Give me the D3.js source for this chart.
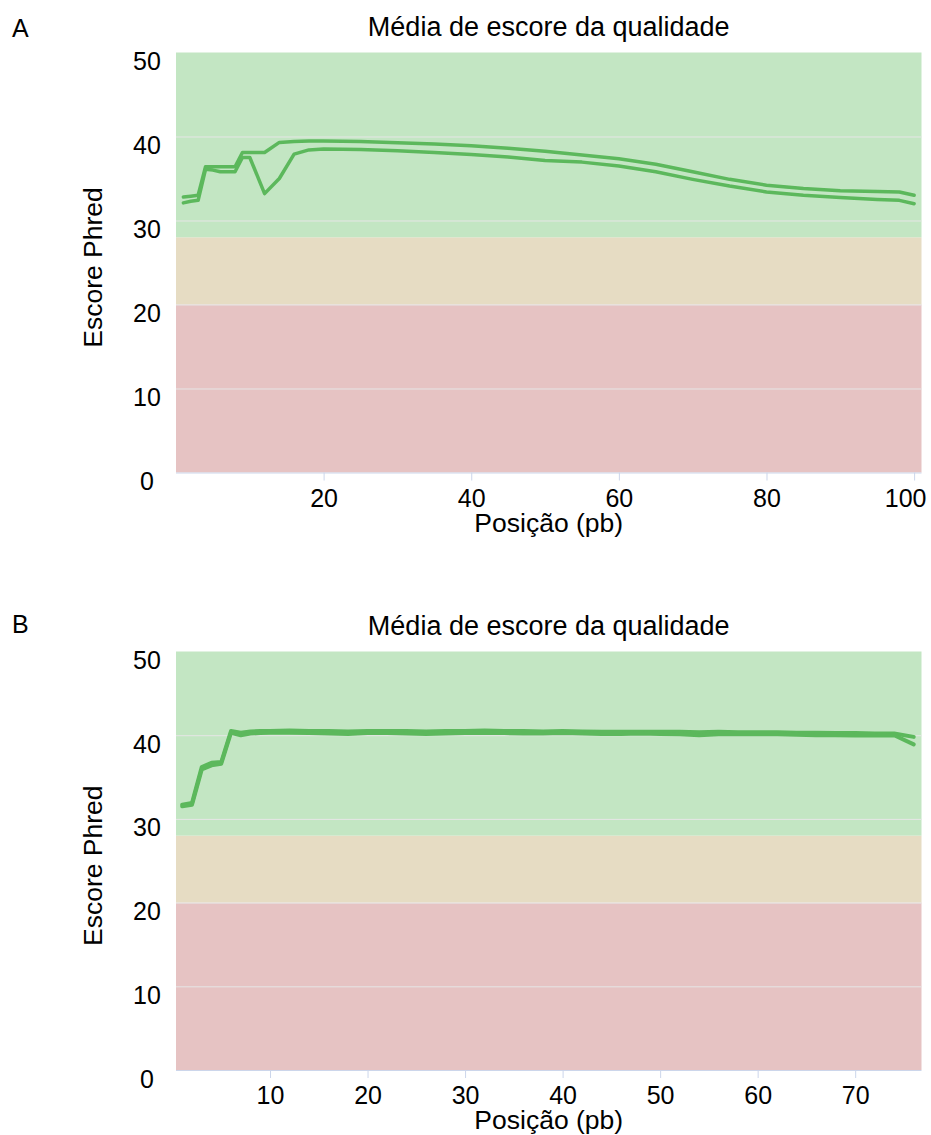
<!DOCTYPE html>
<html>
<head>
<meta charset="utf-8">
<script src="https://cdn.jsdelivr.net/npm/d3@7"></script>
<style>
  html, body { margin: 0; padding: 0; background: #fff; }
  svg { display: block; font-family: "Liberation Sans", Arial, sans-serif; }
</style>
</head>
<body>
<svg id="chart" width="931" height="1135"></svg>
<script>
// Panel A: mean Phred quality per base position (101 bp reads)
const positionsA = [1, 2, 3, 4, 5, 6, 7, 8, 9, 10, 12, 14, 16, 18, 20, 25, 30, 35, 40, 45, 50, 55, 60, 65, 70, 75, 80, 85, 90, 95, 98, 100];
const readA1 = [32.8, 32.9, 33.0, 36.4, 36.4, 36.4, 36.4, 36.4, 38.1, 38.1, 38.1, 39.3, 39.4, 39.45, 39.45, 39.4, 39.25, 39.1, 38.9, 38.6, 38.25, 37.8, 37.35, 36.7, 35.8, 34.9, 34.2, 33.8, 33.55, 33.45, 33.4, 33.0];
const readA2 = [32.1, 32.3, 32.4, 36.1, 36.0, 35.8, 35.8, 35.8, 37.5, 37.5, 33.2, 35.0, 37.9, 38.4, 38.5, 38.45, 38.3, 38.1, 37.85, 37.55, 37.15, 36.95, 36.5, 35.8, 34.9, 34.1, 33.4, 33.0, 32.75, 32.5, 32.4, 32.0];
const ticksXA = [20, 40, 60, 80, 100];

// Panel B: mean Phred quality per base position (76 bp reads)
const positionsB = [1, 2, 3, 4, 5, 6, 7, 8, 9, 10, 12, 14, 16, 18, 20, 22, 24, 26, 28, 30, 32, 34, 36, 38, 40, 42, 44, 46, 48, 50, 52, 54, 56, 58, 60, 62, 64, 66, 68, 70, 72, 74, 76];
const readB1 = [31.7, 31.9, 36.2, 36.7, 36.8, 40.5, 40.3, 40.45, 40.5, 40.5, 40.55, 40.5, 40.5, 40.45, 40.5, 40.5, 40.5, 40.45, 40.5, 40.5, 40.55, 40.5, 40.5, 40.45, 40.5, 40.45, 40.4, 40.4, 40.4, 40.4, 40.4, 40.35, 40.4, 40.35, 40.35, 40.35, 40.3, 40.3, 40.25, 40.25, 40.2, 40.2, 39.8];
const readB2 = [31.5, 31.7, 35.9, 36.4, 36.6, 40.3, 40.0, 40.2, 40.25, 40.3, 40.3, 40.25, 40.2, 40.15, 40.25, 40.25, 40.2, 40.15, 40.2, 40.25, 40.3, 40.25, 40.2, 40.2, 40.25, 40.2, 40.15, 40.15, 40.2, 40.15, 40.1, 40.0, 40.1, 40.1, 40.1, 40.1, 40.05, 40.0, 40.0, 39.95, 39.95, 40.0, 38.9];
const ticksXB = [10, 20, 30, 40, 50, 60, 70];

const ticksY = [0, 10, 20, 30, 40, 50];

// Quality bands: fail / warn / pass
const bandNames = ["fail", "warn", "pass"];
const bandLow = [0, 20, 28];
const bandHigh = [20, 28, 50];
const bandColors = ["#e6c3c3", "#e6dcc3", "#c3e6c3"];

const lineColor = "#5cb85c";
const titleText = "Média de escore da qualidade";
const yTitle = "Escore Phred";
const xTitle = "Posição (pb)";

const W = 931;
const svg = d3.select("#chart");
svg.append("rect").attr("width", W).attr("height", 1135).attr("fill", "#fff");

function drawPanel(cfg) {
  const x = d3.scaleLinear().domain(cfg.xDomain).range([176, 921.5]);
  const y = d3.scaleLinear().domain([0, 50]).range([cfg.bottom, cfg.top]);
  const g = svg.append("g");
  const midX = (x.range()[0] + x.range()[1]) / 2;

  // panel letter
  g.append("text").attr("x", 12).attr("y", cfg.letterY)
    .attr("font-size", 25).attr("fill", "#000").text(cfg.letter);

  // title
  g.append("text").attr("x", midX).attr("y", cfg.top - 17)
    .attr("text-anchor", "middle").attr("font-size", 27).attr("fill", "#000").text(titleText);

  // bands
  g.selectAll("rect.band").data(bandNames).enter().append("rect")
    .attr("class", "band")
    .attr("x", x.range()[0])
    .attr("width", x.range()[1] - x.range()[0])
    .attr("y", (d, i) => y(bandHigh[i]))
    .attr("height", (d, i) => y(bandLow[i]) - y(bandHigh[i]))
    .attr("fill", (d, i) => bandColors[i]);

  // horizontal grid lines
  g.selectAll("line.grid").data(ticksY.filter(v => v > 0 && v < 50)).enter().append("line")
    .attr("class", "grid")
    .attr("x1", x.range()[0]).attr("x2", x.range()[1])
    .attr("y1", d => y(d) + 0.5).attr("y2", d => y(d) + 0.5)
    .attr("stroke", "#e6e6e6").attr("stroke-width", 1);

  // y tick labels
  g.selectAll("text.ytick").data(ticksY).enter().append("text")
    .attr("class", "ytick")
    .attr("x", 147).attr("y", d => y(d) + 17.5)
    .attr("text-anchor", "middle").attr("font-size", 25).attr("fill", "#000")
    .text(d => d);

  // x axis
  const xAxis = d3.axisBottom(x).tickValues(cfg.xTicks).tickSize(8).tickPadding(10);
  const ax = g.append("g").attr("transform", `translate(0,${cfg.bottom})`).call(xAxis);
  ax.select(".domain").attr("stroke", "#ccd6eb").attr("d", `M${x.range()[0]},0.5H${x.range()[1]}`);
  ax.selectAll(".tick line").attr("stroke", "#ccd6eb");
  ax.selectAll(".tick text").attr("font-size", 25).attr("fill", "#000")
    .attr("font-family", "Liberation Sans, Arial, sans-serif").attr("dy", 0).attr("y", 34);
  // keep the last label inside the page edge
  ax.selectAll(".tick").each(function (d) {
    const t = d3.select(this).select("text");
    const w = t.node().getComputedTextLength();
    const right = x(d) + w / 2;
    if (right > W - 5) t.attr("x", (W - 5) - right);
  });

  // axis titles
  g.append("text").attr("x", midX).attr("y", cfg.bottom + 59)
    .attr("text-anchor", "middle").attr("font-size", 26.5).attr("fill", "#000").text(xTitle);
  g.append("text")
    .attr("transform", `translate(102,${(cfg.top + cfg.bottom) / 2 + 5}) rotate(-90)`)
    .attr("text-anchor", "middle").attr("font-size", 26.5).attr("fill", "#000").text(yTitle);

  // series lines
  const line = d3.line().x(d => x(d[0])).y(d => y(d[1]));
  cfg.series.forEach(vals => {
    g.append("path")
      .datum(cfg.positions.map((p, i) => [p, vals[i]]))
      .attr("fill", "none").attr("stroke", lineColor)
      .attr("stroke-width", cfg.lineWidth)
      .attr("stroke-linejoin", "round").attr("stroke-linecap", "round")
      .attr("d", line);
  });
}

drawPanel({
  letter: "A", letterY: 37, top: 52.5, bottom: 472.5,
  xDomain: [0, 101], xTicks: ticksXA,
  positions: positionsA, series: [readA1, readA2], lineWidth: 3.5
});

drawPanel({
  letter: "B", letterY: 633, top: 651.5, bottom: 1070,
  xDomain: [0.36, 76.8], xTicks: ticksXB,
  positions: positionsB, series: [readB1, readB2], lineWidth: 4
});
</script>
</body>
</html>
